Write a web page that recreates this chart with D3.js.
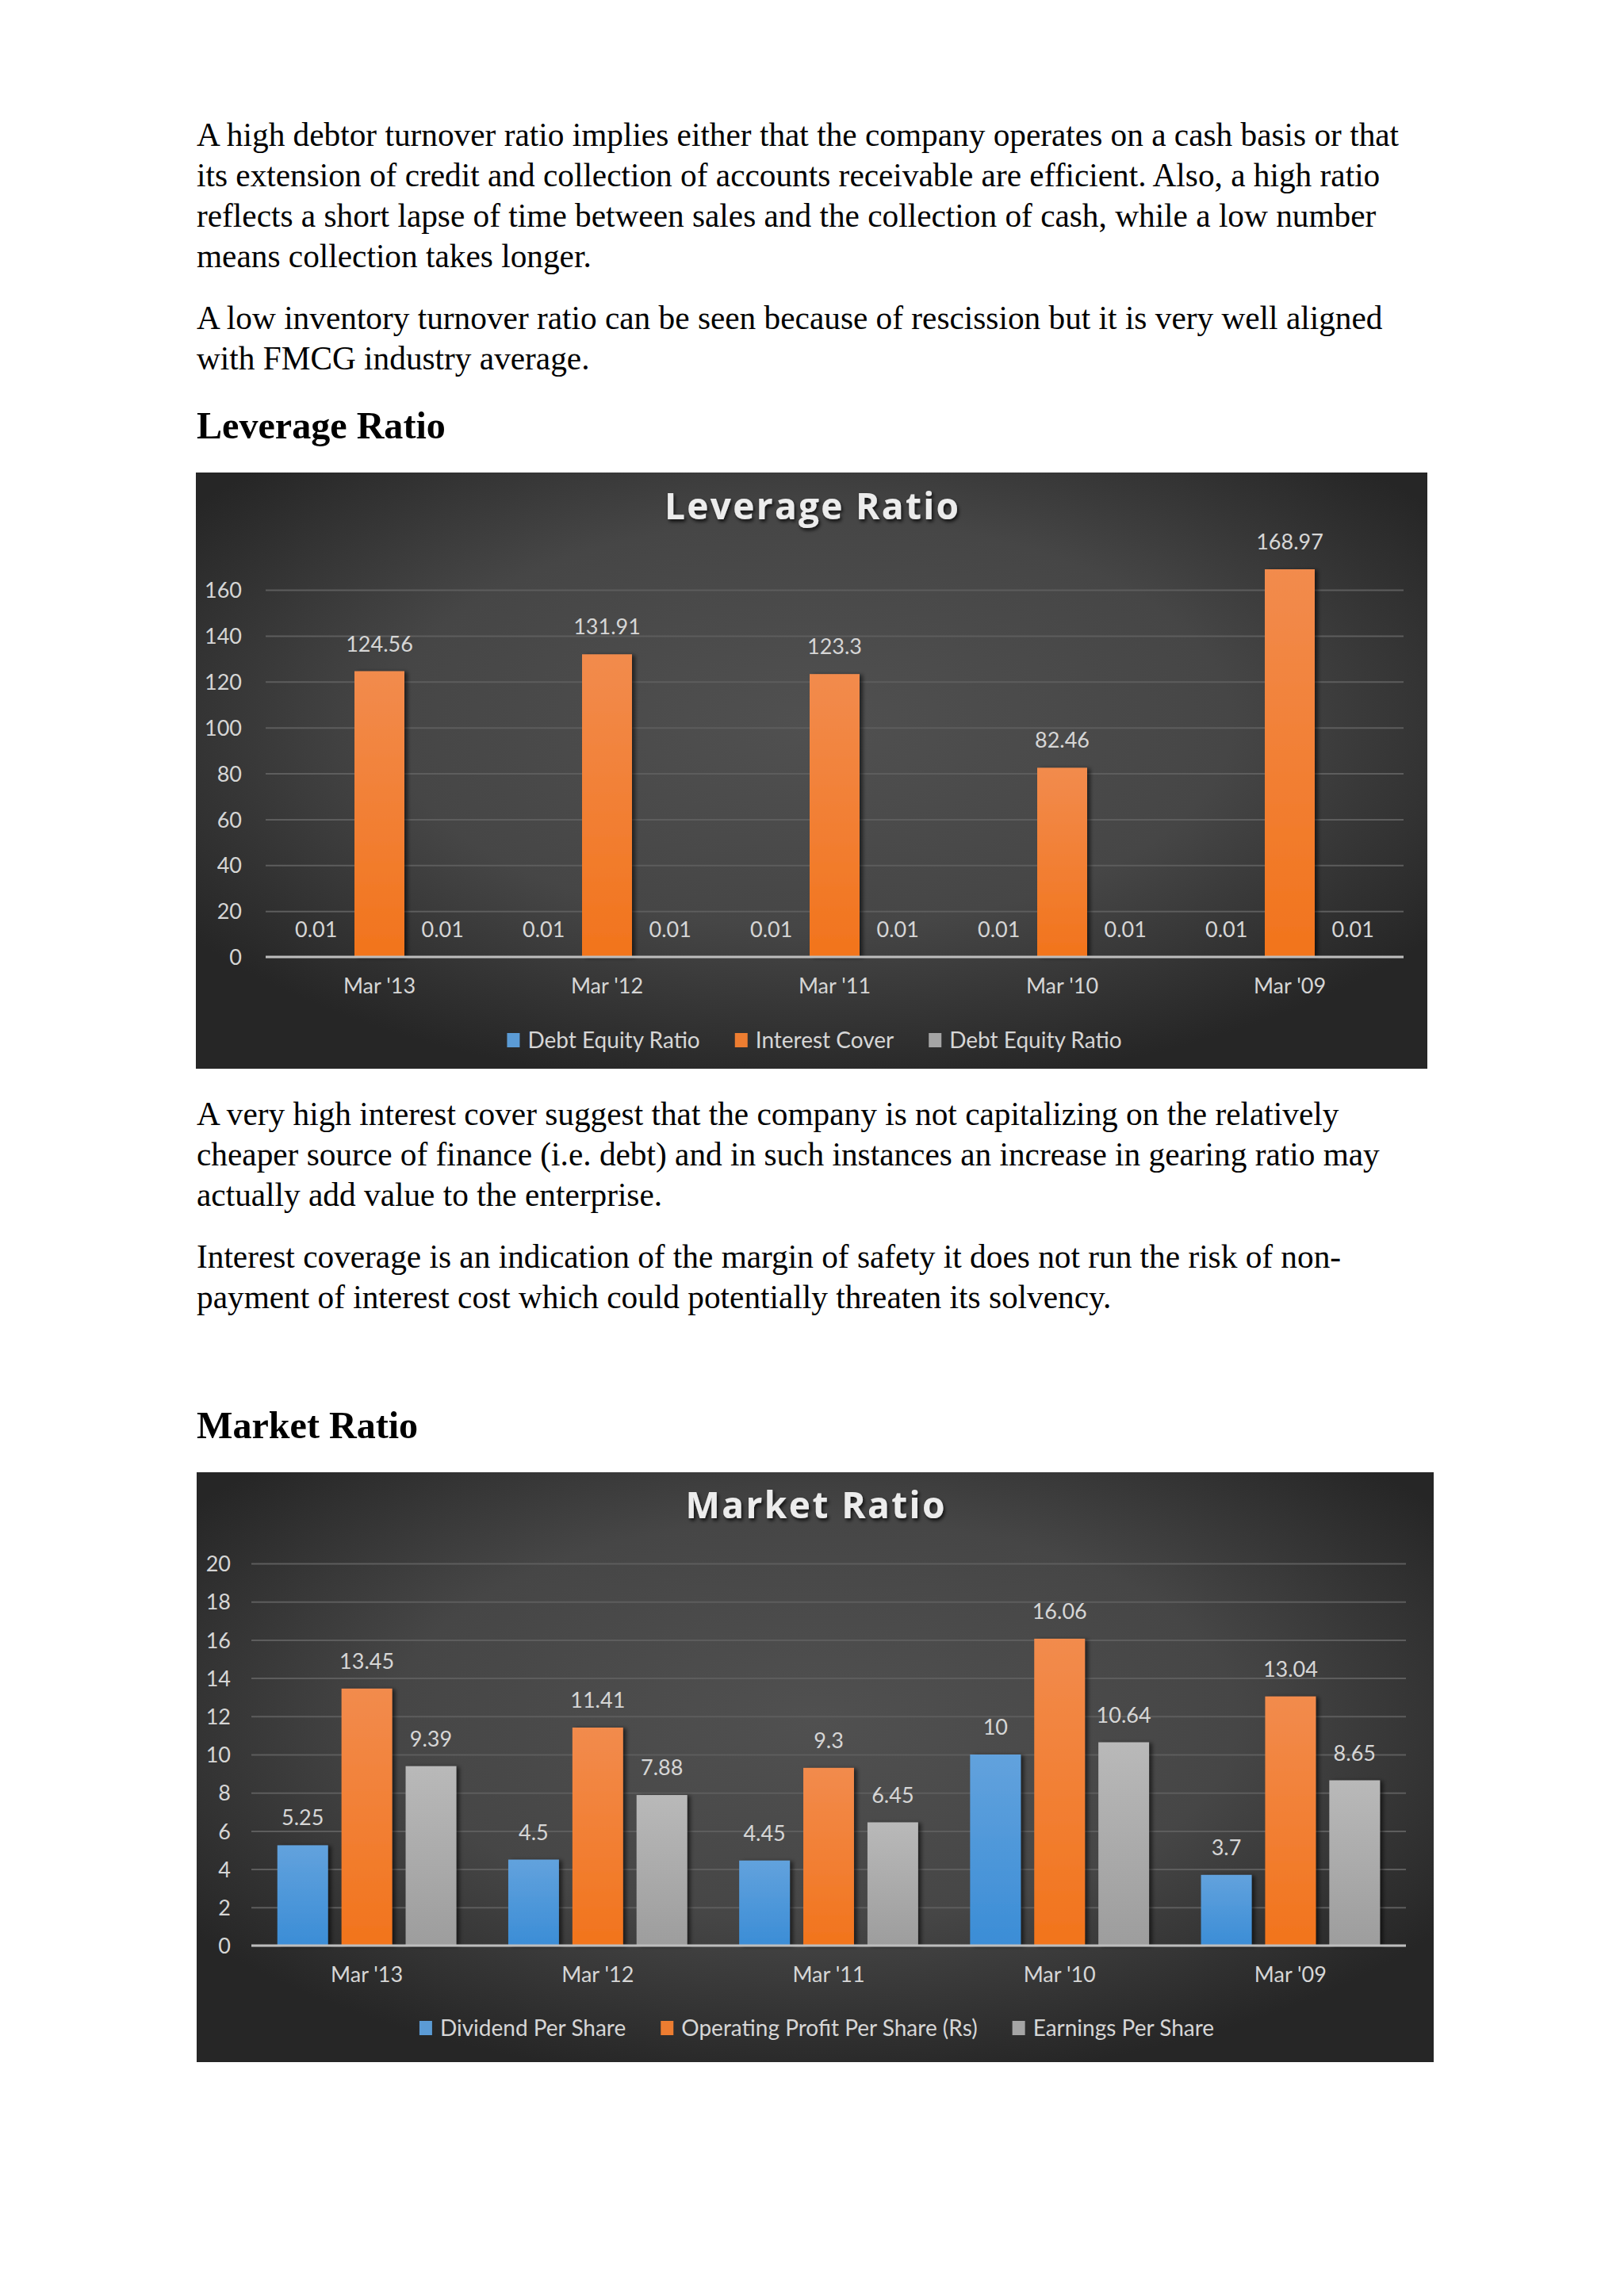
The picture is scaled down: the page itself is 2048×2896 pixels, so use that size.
<!DOCTYPE html>
<html>
<head>
<meta charset="utf-8">
<script src="https://cdn.jsdelivr.net/npm/d3@7"></script>
<style>
  html, body { margin: 0; padding: 0; background: #fff; }
  svg { display: block; }
  .body-text { font-family: "Liberation Serif", "Times New Roman", serif; font-size: 41.3px; fill: #000; }
  .heading { font-family: "Liberation Serif", "Times New Roman", serif; font-size: 48.1px; font-weight: bold; fill: #000; }
  .chart-title { font-family: "Open Sans", "Noto Sans", sans-serif; font-weight: 700; font-size: 46px; fill: #ececec; }
  .tick-label, .data-label, .legend-label { font-family: Lato, "Open Sans", sans-serif; fill: #d6d6d6; }
</style>
</head>
<body>
<script>
// ---- data ----
const categories = ["Mar '13", "Mar '12", "Mar '11", "Mar '10", "Mar '09"];

const leverageNames = ["Debt Equity Ratio", "Interest Cover", "Debt Equity Ratio"];
const debtEquity = [0.01, 0.01, 0.01, 0.01, 0.01];
const interestCover = [124.56, 131.91, 123.3, 82.46, 168.97];
const debtEquity2 = [0.01, 0.01, 0.01, 0.01, 0.01];
const leverageTicks = [0, 20, 40, 60, 80, 100, 120, 140, 160];

const marketNames = ["Dividend Per Share", "Operating Profit Per Share (Rs)", "Earnings Per Share"];
const dividendPerShare = [5.25, 4.5, 4.45, 10, 3.7];
const opProfitPerShare = [13.45, 11.41, 9.3, 16.06, 13.04];
const earningsPerShare = [9.39, 7.88, 6.45, 10.64, 8.65];
const marketTicks = [0, 2, 4, 6, 8, 10, 12, 14, 16, 18, 20];

const seriesColors = [
  {top: "#62a2dd", bottom: "#3b8dd6", flat: "#5b9bd5"},
  {top: "#f28b4d", bottom: "#f2741c", flat: "#ed7d31"},
  {top: "#b9b9b9", bottom: "#9d9d9d", flat: "#a5a5a5"}
];

// page text
const para1 = [
  "A high debtor turnover ratio implies either that the company operates on a cash basis or that",
  "its extension of credit and collection of accounts receivable are efficient. Also, a high ratio",
  "reflects a short lapse of time between sales and the collection of cash, while a low number",
  "means collection takes longer."
];
const para2 = [
  "A low inventory turnover ratio can be seen because of rescission but it is very well aligned",
  "with FMCG industry average."
];
const para3 = [
  "A very high interest cover suggest that the company is not capitalizing on the relatively",
  "cheaper source of finance (i.e. debt) and in such instances an increase in gearing ratio may",
  "actually add value to the enterprise."
];
const para4 = [
  "Interest coverage is an indication of the margin of safety it does not run the risk of non-",
  "payment of interest cost which could potentially threaten its solvency."
];

const W = 2048, H = 2896;
const svg = d3.select("body").append("svg")
    .attr("width", W)
    .attr("height", H);

svg.append("rect").attr("width", W).attr("height", H).attr("fill", "#ffffff");

let defs = svg.append("defs");

let bg = defs.append("radialGradient")
    .attr("id", "chartBg")
    .attr("cx", "50%").attr("cy", "42%").attr("r", "62%");
bg.append("stop").attr("offset", "0%").attr("stop-color", "#505050");
bg.append("stop").attr("offset", "55%").attr("stop-color", "#464646");
bg.append("stop").attr("offset", "100%").attr("stop-color", "#262626");

seriesColors.forEach((c, i) => {
  let lg = defs.append("linearGradient")
      .attr("id", "barGrad" + i)
      .attr("x1", 0).attr("y1", 0).attr("x2", 0).attr("y2", 1);
  lg.append("stop").attr("offset", "0%").attr("stop-color", c.top);
  lg.append("stop").attr("offset", "100%").attr("stop-color", c.bottom);
});

let barShadow = defs.append("filter").attr("id", "barShadow")
    .attr("x", "-30%").attr("y", "-10%").attr("width", "160%").attr("height", "120%");
barShadow.append("feDropShadow")
    .attr("dx", 4).attr("dy", 1).attr("stdDeviation", 2.5)
    .attr("flood-color", "#000").attr("flood-opacity", 0.55);

let titleShadow = defs.append("filter").attr("id", "titleShadow")
    .attr("x", "-10%").attr("y", "-30%").attr("width", "120%").attr("height", "160%");
titleShadow.append("feDropShadow")
    .attr("dx", 2).attr("dy", 3).attr("stdDeviation", 2)
    .attr("flood-color", "#000").attr("flood-opacity", 0.75);

// ---- page text ----
function writeLines(lines, x, y0, step) {
  lines.forEach((t, i) => {
    svg.append("text")
        .attr("class", "body-text")
        .attr("x", x)
        .attr("y", y0 + i * step)
        .text(t);
  });
}
writeLines(para1, 248, 184, 51);
writeLines(para2, 248, 415, 51);
svg.append("text").attr("class", "heading").attr("x", 248).attr("y", 553).text("Leverage Ratio");
writeLines(para3, 248, 1419, 51);
writeLines(para4, 248, 1599, 51);
svg.append("text").attr("class", "heading").attr("x", 248).attr("y", 1814).text("Market Ratio");

// ---- chart drawing ----
function drawChart(cfg) {
  let g = svg.append("g");

  g.append("rect")
      .attr("x", cfg.box.x).attr("y", cfg.box.y)
      .attr("width", cfg.box.w).attr("height", cfg.box.h)
      .attr("fill", "url(#chartBg)");

  g.append("text")
      .attr("class", "chart-title")
      .attr("x", cfg.box.x + cfg.box.w / 2)
      .attr("y", cfg.titleY)
      .attr("text-anchor", "middle")
      .attr("textLength", cfg.titleLen)
      .attr("lengthAdjust", "spacing")
      .attr("filter", "url(#titleShadow)")
      .text(cfg.title);

  let y = d3.scaleLinear().domain(cfg.domain).range([cfg.plot.bottom, cfg.plot.top]);
  let x0 = d3.scaleBand().domain(categories)
      .range([cfg.plot.left, cfg.plot.right])
      .paddingInner(0.225).paddingOuter(0.1125);
  let x1 = d3.scaleBand().domain([0, 1, 2])
      .range([0, x0.bandwidth()])
      .paddingInner(0.21).paddingOuter(0);

  // gridlines
  let grid = g.append("g")
      .attr("transform", "translate(" + cfg.plot.left + ",0)")
      .call(d3.axisLeft(y).tickValues(cfg.ticks).tickSize(-(cfg.plot.right - cfg.plot.left)).tickFormat(""));
  grid.select(".domain").remove();
  grid.selectAll("line").attr("stroke", "#5d5d5d").attr("stroke-width", 2);

  // y tick labels
  let yAx = g.append("g")
      .attr("transform", "translate(" + (cfg.plot.left - cfg.yPad) + ",0)")
      .call(d3.axisLeft(y).tickValues(cfg.ticks).tickSize(0).tickPadding(0));
  yAx.select(".domain").remove();
  yAx.selectAll("text")
      .attr("class", "tick-label")
      .attr("dy", "0.36em")
      .style("font-size", "27px")
      .style("font-family", "Lato, 'Open Sans', sans-serif")
      .attr("fill", "#d6d6d6");

  // bars
  let groups = g.append("g").selectAll("g")
      .data(categories)
      .enter().append("g")
      .attr("transform", d => "translate(" + x0(d) + ",0)");

  let barData = (d, ci) => cfg.series.map((vals, si) => ({si: si, v: vals[ci]}));

  groups.each(function(cat, ci) {
    let grp = d3.select(this);
    let rows = barData(cat, ci);
    grp.selectAll("rect")
        .data(rows)
        .enter().append("rect")
        .attr("x", d => x1(d.si))
        .attr("width", x1.bandwidth())
        .attr("y", d => y(d.v))
        .attr("height", d => Math.max(0, y(0) - y(d.v)))
        .attr("fill", d => "url(#barGrad" + d.si + ")")
        .attr("filter", d => (y(0) - y(d.v)) > 2 ? "url(#barShadow)" : null);
    grp.selectAll("text")
        .data(rows)
        .enter().append("text")
        .attr("class", "data-label")
        .attr("x", d => x1(d.si) + x1.bandwidth() / 2)
        .attr("y", d => y(d.v) - 25)
        .attr("text-anchor", "middle")
        .style("font-size", "27px")
        .text(d => d.v);
  });

  // zero axis line
  g.append("line")
      .attr("x1", cfg.plot.left).attr("x2", cfg.plot.right)
      .attr("y1", y(0)).attr("y2", y(0))
      .attr("stroke", "#bdbdbd").attr("stroke-width", 3);

  // x labels
  let xAx = g.append("g")
      .attr("transform", "translate(0," + y(0) + ")")
      .call(d3.axisBottom(x0).tickSize(0));
  xAx.select(".domain").remove();
  xAx.selectAll("text")
      .attr("y", 46).attr("dy", 0)
      .style("font-size", "27px")
      .style("font-family", "Lato, 'Open Sans', sans-serif")
      .attr("fill", "#d6d6d6");

  // legend
  let leg = g.append("g");
  let cx = 0;
  cfg.names.forEach((name, i) => {
    leg.append("rect")
        .attr("x", cx).attr("y", -9)
        .attr("width", 16).attr("height", 18)
        .attr("fill", seriesColors[i].flat);
    let t = leg.append("text")
        .attr("class", "legend-label")
        .attr("x", cx + 26).attr("y", 0)
        .attr("dy", "0.35em")
        .style("font-size", "28px")
        .text(name);
    cx += 26 + t.node().getComputedTextLength() + 44;
  });
  let legW = cx - 44;
  leg.attr("transform", "translate(" + (cfg.legendCenter - legW / 2) + "," + cfg.legendY + ")");
}

drawChart({
  title: "Leverage Ratio",
  titleLen: 371,
  box: {x: 247, y: 596, w: 1553, h: 752},
  titleY: 655,
  plot: {left: 335, right: 1770, top: 744, bottom: 1207},
  domain: [0, 160],
  ticks: leverageTicks,
  yPad: 30,
  series: [debtEquity, interestCover, debtEquity2],
  names: leverageNames,
  legendY: 1312,
  legendCenter: 1027
});

drawChart({
  title: "Market Ratio",
  titleLen: 327,
  box: {x: 248, y: 1857, w: 1560, h: 744},
  titleY: 1915,
  plot: {left: 317, right: 1773, top: 1972, bottom: 2454},
  domain: [0, 20],
  ticks: marketTicks,
  yPad: 26,
  series: [dividendPerShare, opProfitPerShare, earningsPerShare],
  names: marketNames,
  legendY: 2558,
  legendCenter: 1030
});
</script>
</body>
</html>
